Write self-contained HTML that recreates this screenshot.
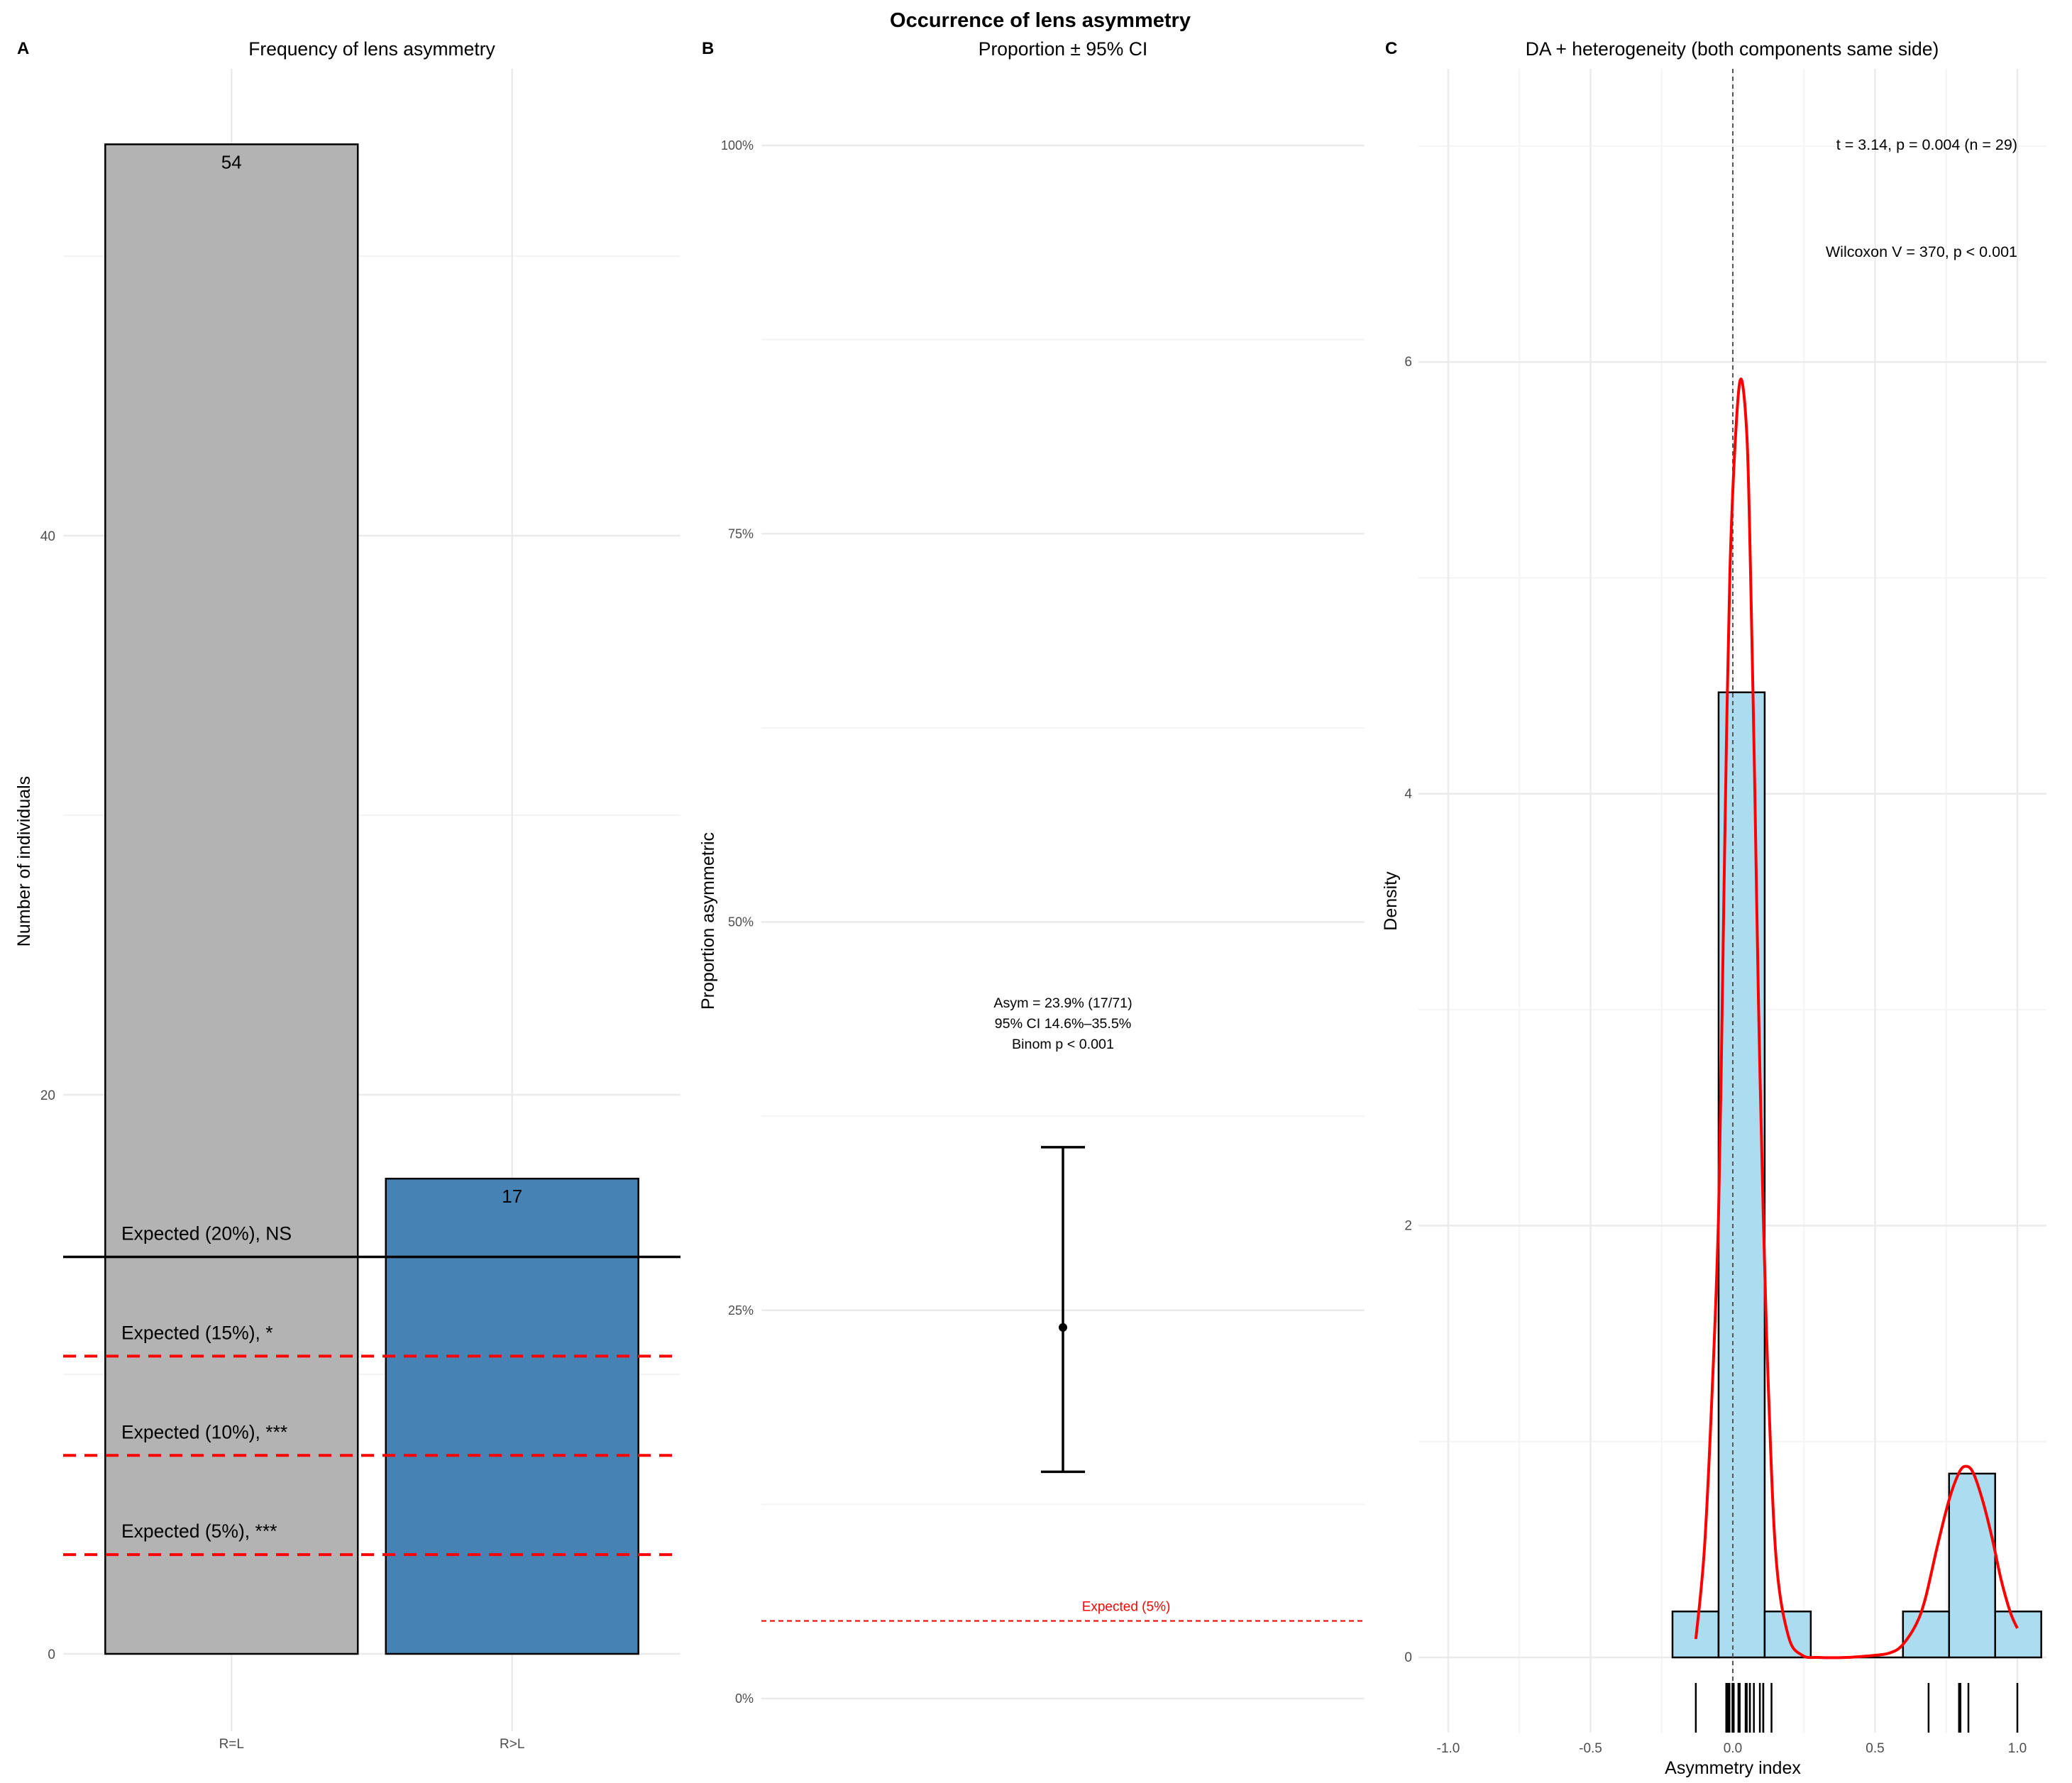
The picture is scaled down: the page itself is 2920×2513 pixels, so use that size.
<!DOCTYPE html>
<html><head><meta charset="utf-8"><style>
html,body{margin:0;padding:0;background:#fff;}
svg{display:block;font-family:"Liberation Sans",Arial,sans-serif;}
</style></head><body>
<svg id="fig" width="2920" height="2513" viewBox="0 0 2920 2513" xmlns="http://www.w3.org/2000/svg">
<rect x="0" y="0" width="2920" height="2513" fill="#fff"/>
<text x="1466" y="38" text-anchor="middle" font-size="29" font-weight="bold">Occurrence of lens asymmetry</text>
<g id="pA"></g>
<g id="pB"></g>
<g id="pC"></g>
</svg>
<script>
// ---------- Panel A data ----------
const catsA = ["R=L","R>L"];
const countsA = [54,17];
const colorsA = ["#b3b3b3","#4682b4"];
const yTicksA = [0,20,40];
const yMinorA = [10,30,50];
const expPct = [20,15,10,5];
const expLabels = ["Expected (20%), NS","Expected (15%), *","Expected (10%), ***","Expected (5%), ***"];
const totalN = 71;
// ---------- Panel B data ----------
const propEst = 23.9;
const propLo = 14.6;
const propHi = 35.5;
const propExpected = 5;
const yTicksB = [0,25,50,75,100];
const yTickLabelsB = ["0%","25%","50%","75%","100%"];
const yMinorB = [12.5,37.5,62.5,87.5];
const annB = ["Asym = 23.9% (17/71)","95% CI 14.6%\u201335.5%","Binom p < 0.001"];
// ---------- Panel C data ----------
const rugC = [-0.13,-0.023,-0.023,-0.017,-0.012,-0.012,-0.001,-0.001,0.003,0.003,0.02,0.02,0.024,0.024,0.045,0.049,0.06,0.06,0.074,0.095,0.107,0.107,0.136,0.688,0.795,0.797,0.80,0.828,1.0];
const binStart = -0.212;
const binWidth = 0.162;
const nBins = 8;
const kdeX = [-0.13,-0.10,-0.072,-0.05,-0.037,-0.025,-0.01,0.012,0.03,0.05,0.062,0.077,0.09,0.107,0.125,0.152,0.195,0.244,0.3,0.4,0.5,0.55,0.593,0.643,0.676,0.718,0.76,0.793,0.816,0.843,0.875,0.91,0.943,0.975,1.0];
const kdeY = [0.085,0.5,1.25,2.05,3.05,4.04,5.04,5.71,5.92,5.64,5.04,4.04,3.05,2.05,1.25,0.46,0.1,0.01,0.0,0.0,0.01,0.02,0.053,0.15,0.27,0.51,0.73,0.85,0.885,0.86,0.74,0.56,0.36,0.21,0.135];
const xTicksC = [-1,-0.5,0,0.5,1];
const xTickLabelsC = ["-1.0","-0.5","0.0","0.5","1.0"];
const xMinorC = [-0.75,-0.25,0.25,0.75];
const yTicksC = [0,2,4,6];
const yMinorC = [1,3,5,7];
const annC = ["t = 3.14, p = 0.004 (n = 29)","Wilcoxon V = 370, p < 0.001"];

const NS="http://www.w3.org/2000/svg";
function mk(parent,tag,attrs,text){const e=document.createElementNS(NS,tag);for(const k in attrs)e.setAttribute(k,attrs[k]);if(text!==undefined)e.textContent=text;parent.appendChild(e);return e;}

// ================= Panel A =================
(function(){
const g=document.getElementById('pA');
const L=89,R=959,T=97,B=2440;
const y=v=>2331-(v)*39.4;
const band=(R-L)/(catsA.length-1+1.2);
const x=i=>L+0.6*band+i*band;
let t;
t=mk(g,'text',{x:24,y:76,'font-size':24,'font-weight':'bold'},'A');
t=mk(g,'text',{x:524,y:78,'text-anchor':'middle','font-size':26.5},'Frequency of lens asymmetry');
yMinorA.forEach(v=>{const l=mk(g,'line',{x1:L,x2:R,y1:y(v),y2:y(v),stroke:'#f4f4f4','stroke-width':2});});
yTicksA.forEach(v=>{const l=mk(g,'line',{x1:L,x2:R,y1:y(v),y2:y(v),stroke:'#ebebeb','stroke-width':2.5});
 const tl=mk(g,'text',{x:78,y:y(v)+7,'text-anchor':'end','font-size':19,fill:'#4d4d4d'},String(v));});
catsA.forEach((c,i)=>{const l=mk(g,'line',{x1:x(i),x2:x(i),y1:T,y2:B,stroke:'#ebebeb','stroke-width':2.5});});
catsA.forEach((c,i)=>{
 const w=band*0.9;
 const r=mk(g,'rect',{x:x(i)-w/2,y:y(countsA[i]),width:w,height:y(0)-y(countsA[i]),fill:colorsA[i],stroke:'#000','stroke-width':2.5});
 
 const lb=mk(g,'text',{x:x(i),y:y(countsA[i])+34,'text-anchor':'middle','font-size':26},String(countsA[i]));
 const xl=mk(g,'text',{x:x(i),y:2464,'text-anchor':'middle','font-size':19,fill:'#4d4d4d'},c);
});
expPct.forEach((p,i)=>{
 const v=totalN*p/100;
 const attrs={x1:L,x2:R,y1:y(v),y2:y(v),stroke:i===0?'#000':'#ff0000','stroke-width':i===0?3.5:4};
 if(i>0)attrs['stroke-dasharray']='18 12';
 const l=mk(g,'line',attrs);
 const tl=mk(g,'text',{x:171,y:y(v)-24,'font-size':26.5},expLabels[i]);
});
t=mk(g,'text',{x:0,y:0,'text-anchor':'middle','font-size':25,transform:'translate(42,1214) rotate(-90)'},'Number of individuals');
})();

// ================= Panel B =================
(function(){
const g=document.getElementById('pB');
const L=1073,R=1923;
const y=v=>2394-v*21.89;
const cx=(L+R)/2;
let t;
t=mk(g,'text',{x:989,y:76,'font-size':24,'font-weight':'bold'},'B');
t=mk(g,'text',{x:cx,y:78,'text-anchor':'middle','font-size':26.5},'Proportion \u00b1 95% CI');
yMinorB.forEach(v=>{const l=mk(g,'line',{x1:L,x2:R,y1:y(v),y2:y(v),stroke:'#f4f4f4','stroke-width':2});});
yTicksB.forEach((v,i)=>{const l=mk(g,'line',{x1:L,x2:R,y1:y(v),y2:y(v),stroke:'#ebebeb','stroke-width':2.5});
 const tl=mk(g,'text',{x:1062,y:y(v)+6,'text-anchor':'end','font-size':18,fill:'#4d4d4d'},yTickLabelsB[i]);});
let l=mk(g,'line',{x1:L,x2:R,y1:y(propExpected),y2:y(propExpected),stroke:'#ff0000','stroke-width':2.2,'stroke-dasharray':'7 5'});
t=mk(g,'text',{x:1587,y:y(propExpected)-14,'text-anchor':'middle','font-size':19,fill:'#ff0000'},'Expected (5%)');
const eg=mk(g,'g',{});
mk(eg,'line',{x1:cx,x2:cx,y1:y(propLo),y2:y(propHi),stroke:'#000','stroke-width':3.5});
mk(eg,'line',{x1:cx-31,x2:cx+31,y1:y(propLo),y2:y(propLo),stroke:'#000','stroke-width':3.5});
mk(eg,'line',{x1:cx-31,x2:cx+31,y1:y(propHi),y2:y(propHi),stroke:'#000','stroke-width':3.5});
const pt=mk(g,'circle',{cx:cx,cy:y(propEst),r:6,fill:'#000'});
annB.forEach((s,i)=>{const a=mk(g,'text',{x:cx,y:1420+i*29,'text-anchor':'middle','font-size':19.7},s);});
t=mk(g,'text',{x:0,y:0,'text-anchor':'middle','font-size':25,transform:'translate(1006,1298) rotate(-90)'},'Proportion asymmetric');
})();

// ================= Panel C =================
(function(){
const g=document.getElementById('pC');
const L=1999,R=2884,T=97,B=2442;
const x=v=>2442+v*401;
const y=v=>2336-v*304.3;
let t;
t=mk(g,'text',{x:1952,y:76,'font-size':24,'font-weight':'bold'},'C');
t=mk(g,'text',{x:2441,y:78,'text-anchor':'middle','font-size':26.5},'DA + heterogeneity (both components same side)');
xMinorC.forEach(v=>{const l=mk(g,'line',{x1:x(v),x2:x(v),y1:T,y2:B,stroke:'#f4f4f4','stroke-width':2});});
yMinorC.forEach(v=>{if(y(v)<T)return;const l=mk(g,'line',{x1:L,x2:R,y1:y(v),y2:y(v),stroke:'#f4f4f4','stroke-width':2});});
xTicksC.forEach((v,i)=>{const l=mk(g,'line',{x1:x(v),x2:x(v),y1:T,y2:B,stroke:'#ebebeb','stroke-width':2.5});
 const tl=mk(g,'text',{x:x(v),y:2470,'text-anchor':'middle','font-size':19,fill:'#4d4d4d'},xTickLabelsC[i]);});
yTicksC.forEach(v=>{const l=mk(g,'line',{x1:L,x2:R,y1:y(v),y2:y(v),stroke:'#ebebeb','stroke-width':2.5});
 const tl=mk(g,'text',{x:1990,y:y(v)+6,'text-anchor':'end','font-size':19,fill:'#4d4d4d'},String(v));});
// histogram
const counts=new Array(nBins).fill(0);
rugC.forEach(v=>{let b=Math.floor((v-binStart)/binWidth);if(b<0)b=0;if(b>=nBins)b=nBins-1;counts[b]++;});
counts.forEach((c,i)=>{
 if(c===0){const bl=mk(g,'line',{x1:x(binStart+i*binWidth),x2:x(binStart+(i+1)*binWidth),y1:y(0),y2:y(0),stroke:'#000','stroke-width':2.5});return;}
 const d=c/(rugC.length*binWidth);
 const r=mk(g,'rect',{x:x(binStart+i*binWidth),y:y(d),width:x(binStart+(i+1)*binWidth)-x(binStart+i*binWidth),height:y(0)-y(d),fill:'#abdcf0',stroke:'#000','stroke-width':2.5});
 
});
// zero dashed line
let l=mk(g,'line',{x1:x(0),x2:x(0),y1:T,y2:B,stroke:'#555','stroke-width':2,'stroke-dasharray':'6 5'});
// kde smooth (Catmull-Rom)
const P=kdeX.map((v,i)=>[x(v),y(kdeY[i])]);
let d='M'+P[0][0].toFixed(1)+','+P[0][1].toFixed(1);
for(let i=0;i<P.length-1;i++){
 const p0=P[Math.max(0,i-1)],p1=P[i],p2=P[i+1],p3=P[Math.min(P.length-1,i+2)];
 const c1=[p1[0]+(p2[0]-p0[0])/6,p1[1]+(p2[1]-p0[1])/6];
 const c2=[p2[0]-(p3[0]-p1[0])/6,p2[1]-(p3[1]-p1[1])/6];
 d+=' C'+c1[0].toFixed(1)+','+c1[1].toFixed(1)+' '+c2[0].toFixed(1)+','+c2[1].toFixed(1)+' '+p2[0].toFixed(1)+','+p2[1].toFixed(1);
}
const pl=mk(g,'path',{d:d,fill:'none',stroke:'#ff0000','stroke-width':4,'stroke-linejoin':'round'});
// rug
rugC.forEach(v=>{const rl=mk(g,'line',{x1:x(v),x2:x(v),y1:2372,y2:2442,stroke:'#000','stroke-width':2.5});});
annC.forEach((s,i)=>{const a=mk(g,'text',{x:x(1),y:[211,362][i],'text-anchor':'end','font-size':21.5},s);});
t=mk(g,'text',{x:2442,y:2500,'text-anchor':'middle','font-size':25},'Asymmetry index');
t=mk(g,'text',{x:0,y:0,'text-anchor':'middle','font-size':25,transform:'translate(1968,1270) rotate(-90)'},'Density');
})();
</script>
</body></html>
